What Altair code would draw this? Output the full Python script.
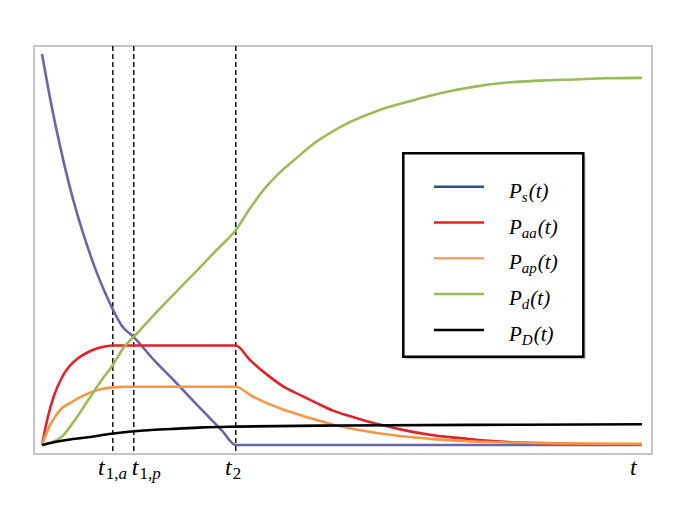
import altair as alt
import pandas as pd

# ---------------- data ----------------
series_names = ["Ps", "Paa", "Pap", "Pd", "PD"]

t_ps = [0, 0.15, 0.3, 0.45, 0.6, 0.75, 0.9, 1.05, 1.18, 1.33, 1.53, 1.88, 2.2, 2.6, 3.0, 3.23, 10]
v_ps = [1.0, 0.875, 0.765, 0.668, 0.584, 0.511, 0.446, 0.39, 0.347, 0.305, 0.276, 0.215, 0.165, 0.1, 0.037, 0.0, 0.0]

t_paa = [0, 0.1, 0.2, 0.33, 0.45, 0.6, 0.75, 0.9, 1.05, 1.18, 3.23, 3.47, 3.75, 4.02, 4.3, 4.58,
         4.85, 5.13, 5.41, 5.7, 5.97, 6.52, 7.08, 7.63, 8.63, 10]
v_paa = [0, 0.073, 0.126, 0.172, 0.2, 0.222, 0.236, 0.246, 0.252, 0.2545, 0.2545, 0.217, 0.18, 0.15,
         0.128, 0.107, 0.088, 0.074, 0.061, 0.05, 0.04, 0.025, 0.016, 0.009, 0.004, 0.002]

t_pap = [0, 0.1, 0.2, 0.33, 0.45, 0.55, 0.77, 0.995, 1.22, 1.4, 3.23, 3.5, 3.75, 4.02, 4.3, 4.58,
         4.85, 5.13, 5.41, 5.97, 6.52, 7.08, 7.63, 8.63, 10]
v_pap = [0, 0.04, 0.068, 0.094, 0.106, 0.115, 0.132, 0.143, 0.148, 0.149, 0.149, 0.125, 0.107, 0.091,
         0.077, 0.064, 0.052, 0.043, 0.035, 0.023, 0.015, 0.0095, 0.007, 0.004, 0.003]

t_pd = [0, 0.15, 0.33, 0.55, 0.77, 0.995, 1.16, 1.38, 1.53, 1.88, 2.2, 2.55, 2.9, 3.23, 3.47, 3.69,
        3.97, 4.25, 4.52, 4.8, 5.08, 5.36, 5.63, 5.91, 6.19, 6.47, 6.77, 7.19, 7.75, 8.3, 8.86, 9.41, 10]
v_pd = [0, 0.006, 0.021, 0.064, 0.115, 0.166, 0.2, 0.253, 0.277, 0.335, 0.386, 0.441, 0.497, 0.55,
        0.606, 0.652, 0.698, 0.735, 0.77, 0.798, 0.822, 0.841, 0.857, 0.87, 0.882, 0.893, 0.904,
        0.916, 0.927, 0.932, 0.935, 0.938, 0.939]

t_pD = [0, 0.1, 0.33, 0.77, 1.16, 1.53, 1.88, 2.15, 2.68, 3.24, 5.0, 8.0, 10]
v_pD = [0, 0.004, 0.011, 0.02, 0.029, 0.035, 0.039, 0.041, 0.045, 0.047, 0.05, 0.052, 0.053]

# vertical marker times and their labels: (main, upright subscript part, italic subscript part)
marker_times = [1.18, 1.53, 3.23]
tick_values = [1.18, 1.53, 3.23, 10.0]
tick_sub_upright = ["1,", "1,", "2", ""]
tick_sub_italic = ["a", "p", "", ""]

legend_subs = ["s", "aa", "ap", "d", "D"]

# ---------------- styles ----------------
plot_colors = ["#6767a8", "#e0232b", "#f79646", "#9bbb59", "#000000"]
legend_colors = ["#2f4f86", "#e8202a", "#f4a46a", "#9bbb59", "#000000"]
FONT = "Liberation Serif"
W, H = 618, 408

series_t = [t_ps, t_paa, t_pap, t_pd, t_pD]
series_v = [v_ps, v_paa, v_pap, v_pd, v_pD]
frames = []
for i, (name, ts, vs) in enumerate(zip(series_names, series_t, series_v)):
    frames.append(pd.DataFrame({"t": ts, "v": vs, "s": name, "k": i}))
df = pd.concat(frames, ignore_index=True)

xscale = alt.Scale(domain=[-0.1333, 10.1667], nice=False, zero=False)
yscale = alt.Scale(domain=[-0.023, 1.0205], nice=False, zero=False)

layers = []

# dashed vertical markers
layers.append(
    alt.Chart(pd.DataFrame({"t": marker_times}))
    .mark_rule(color="black", strokeWidth=1.4, strokeDash=[5, 3])
    .encode(x=alt.X("t:Q", scale=xscale, axis=None), y=alt.value(0), y2=alt.value(H))
)

# curves
for i, name in enumerate(series_names):
    layers.append(
        alt.Chart(df[df.s == name])
        .mark_line(strokeWidth=2.6, color=plot_colors[i], interpolate="monotone")
        .encode(
            x=alt.X("t:Q", scale=xscale, axis=None),
            y=alt.Y("v:Q", scale=yscale, axis=None),
            order="t:Q",
        )
    )

one = pd.DataFrame({"a": [0]})

# advance widths (em) for Times-like italic / regular
ITW = {"P": 0.611, "s": 0.389, "a": 0.5, "p": 0.5, "d": 0.5, "D": 0.722, "t": 0.278,
       "(": 0.333, ")": 0.333}
RGW = {"1": 0.5, ",": 0.25, "2": 0.5}


def text_piece(txt, size, italic, x=None, dx=0, y=0, tval=None):
    mk = alt.Chart(one if tval is None else pd.DataFrame({"t": [tval]})).mark_text(
        text=txt, font=FONT, fontSize=size, fontStyle="italic" if italic else "normal",
        align="left", baseline="alphabetic", dx=dx, color="black",
    )
    if tval is None:
        return mk.encode(x=alt.value(x), y=alt.value(y))
    return mk.encode(x=alt.X("t:Q", scale=xscale, axis=None), y=alt.value(y))


# x-axis labels
label_dx = [-14.7, -2.0, -10.7, -12.0]
MAIN, SUB = 24, 17
BASE = 429
for tv, su, si, ddx in zip(tick_values, tick_sub_upright, tick_sub_italic, label_dx):
    layers.append(text_piece("t", MAIN, True, dx=ddx, y=BASE, tval=tv))
    cx = ddx + ITW["t"] * MAIN + 1
    if su:
        layers.append(text_piece(su, SUB, False, dx=cx, y=BASE + 4, tval=tv))
        cx += sum(RGW[c] for c in su) * SUB
    if si:
        layers.append(text_piece(si, SUB, True, dx=cx, y=BASE + 4, tval=tv))

# legend box (shadow + box)
bx0, by0, bx1, by1 = 369.3, 107.3, 549.3, 310.7
layers.append(
    alt.Chart(one).mark_rect(fill="#c9c9c9").encode(
        x=alt.value(bx0 + 2.5), x2=alt.value(bx1 + 2.5), y=alt.value(by0 + 2.5), y2=alt.value(by1 + 2.5))
)
layers.append(
    alt.Chart(one).mark_rect(fill="white", stroke="black", strokeWidth=2.5).encode(
        x=alt.value(bx0), x2=alt.value(bx1), y=alt.value(by0), y2=alt.value(by1))
)

LX0, LX1, LY0, LDY = 400, 450, 140.7, 35.8
TX, LSIZE, LSUB = 475, 21, 15
for i, sub in enumerate(legend_subs):
    ly = LY0 + i * LDY
    layers.append(
        alt.Chart(one).mark_rule(color=legend_colors[i], strokeWidth=2.5).encode(
            x=alt.value(LX0), x2=alt.value(LX1), y=alt.value(ly))
    )
    base = ly + 11
    layers.append(text_piece("P", LSIZE, True, x=TX, y=base))
    cx = TX + ITW["P"] * LSIZE
    layers.append(text_piece(sub, LSUB, True, x=cx, y=base + 4))
    cx += sum(ITW[c] for c in sub) * LSUB + 1
    layers.append(text_piece("(t)", LSIZE, True, x=cx, y=base))

chart = (
    alt.layer(*layers)
    .properties(
        width=W, height=H,
        padding={"left": 26, "top": 38, "right": 15, "bottom": 45},
        autosize=alt.AutoSizeParams(type="none"),
        background="white",
    )
    .configure_view(stroke="#b3b3b3", strokeWidth=1.5)
)

chart.save("out.html", embed_options={"renderer": "svg", "actions": False})
